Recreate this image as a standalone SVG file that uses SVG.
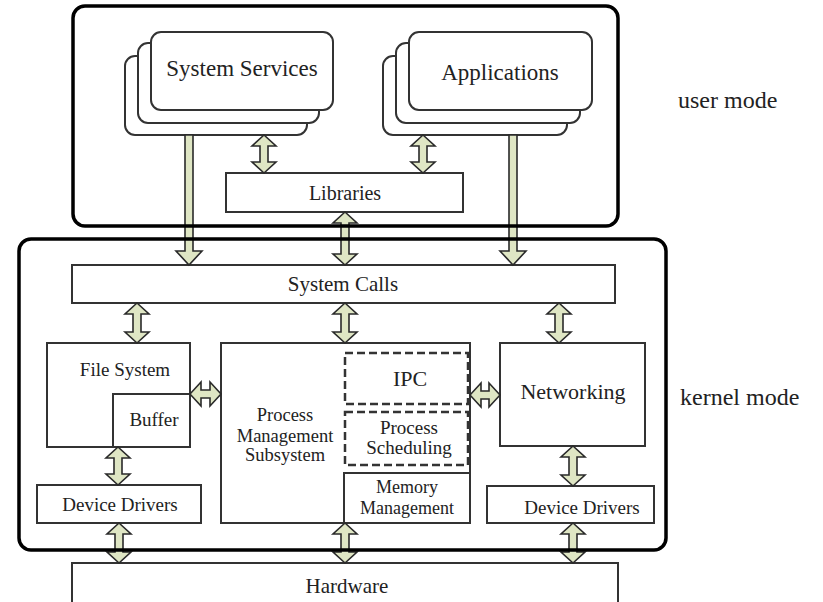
<svg xmlns="http://www.w3.org/2000/svg" width="823" height="602" viewBox="0 0 823 602">
<style>
  .box { fill: #ffffff; stroke: #333333; stroke-width: 2; }
  .rbox { fill: #ffffff; stroke: #333333; stroke-width: 2; }
  .dash { fill: none; stroke: #333333; stroke-width: 2.5; stroke-dasharray: 8 4; }
  .cont { fill: none; stroke: #000000; stroke-width: 3.5; }
  .arr { fill: #dfe6c4; stroke: #2a2a2a; stroke-width: 1.6; stroke-linejoin: miter; }
  text { font-family: "Liberation Serif", "Times New Roman", serif; fill: #222222; text-anchor: middle; }
  .side { text-anchor: start; font-size: 24px; }
</style>
<rect x="0" y="0" width="823" height="602" fill="#ffffff"/>

<g id="user-stack">
  <g id="system-services">
    <rect class="rbox" x="125" y="56" width="182" height="79" rx="10"/>
    <rect class="rbox" x="138" y="43" width="181" height="80" rx="10"/>
    <rect class="rbox" x="151" y="32" width="182" height="78" rx="10"/>
    <text x="242" y="76" font-size="23">System Services</text>
  </g>
  <g id="applications">
    <rect class="rbox" x="383" y="56" width="184" height="79" rx="10"/>
    <rect class="rbox" x="396" y="43" width="184" height="80" rx="10"/>
    <rect class="rbox" x="409" y="32" width="183" height="78" rx="10"/>
    <text x="500" y="80" font-size="23">Applications</text>
  </g>
</g>

<g id="libraries">
  <rect class="box" x="226" y="173" width="237" height="39"/>
  <text x="345" y="200" font-size="20">Libraries</text>
</g>

<g id="system-calls">
  <rect class="box" x="72" y="265" width="543" height="38"/>
  <text x="343" y="291" font-size="21">System Calls</text>
</g>

<g id="file-system">
  <rect class="box" x="47" y="343" width="143" height="104"/>
  <text x="125" y="376" font-size="19">File System</text>
</g>
<g id="buffer">
  <rect class="box" x="113" y="394" width="77" height="53"/>
  <text x="154" y="426" font-size="19">Buffer</text>
</g>

<g id="process-management">
  <rect class="box" x="221" y="343" width="249" height="180"/>
  <text x="285" y="421" font-size="18.5">Process</text>
  <text x="285" y="442" font-size="18.5">Management</text>
  <text x="285" y="461" font-size="18.5">Subsystem</text>
</g>
<g id="ipc">
  <rect class="dash" x="345" y="353" width="123" height="51"/>
  <text x="410" y="386" font-size="22">IPC</text>
</g>
<g id="process-scheduling">
  <rect class="dash" x="345" y="412" width="123" height="53"/>
  <text x="409" y="434" font-size="19">Process</text>
  <text x="409" y="454" font-size="19">Scheduling</text>
</g>
<g id="memory-management">
  <rect class="box" x="344" y="473" width="126" height="50"/>
  <text x="407" y="493" font-size="18">Memory</text>
  <text x="407" y="514" font-size="18">Management</text>
</g>

<g id="networking">
  <rect class="box" x="500" y="343" width="145" height="103"/>
  <text x="573" y="399" font-size="22">Networking</text>
</g>

<g id="device-drivers-left">
  <rect class="box" x="37" y="485" width="164" height="38"/>
  <text x="120" y="511" font-size="19">Device Drivers</text>
</g>
<g id="device-drivers-right">
  <rect class="box" x="487" y="486" width="167" height="37"/>
  <text x="582" y="514" font-size="19">Device Drivers</text>
</g>

<g id="hardware">
  <rect class="box" x="72" y="563" width="546" height="50"/>
  <text x="347" y="593" font-size="21">Hardware</text>
</g>

<g id="connectors">
  <path class="arr" d="M264,135 L276,146 L268,146 L268,162 L276,162 L264,173 L252,162 L260,162 L260,146 L252,146 Z"/>
  <path class="arr" d="M423,135 L435,146 L427,146 L427,162 L435,162 L423,173 L411,162 L419,162 L419,146 L411,146 Z"/>
  <path class="arr" d="M345,212 L357,223 L349,223 L349,254 L357,254 L345,265 L333,254 L341,254 L341,223 L333,223 Z"/>
  <path class="arr" d="M185,135 L193,135 L193,251 L202,251 L189,265 L176,251 L185,251 Z"/>
  <path class="arr" d="M509,135 L517,135 L517,251 L526,251 L513,265 L500,251 L509,251 Z"/>
  <path class="arr" d="M137,303 L149,314 L141,314 L141,332 L149,332 L137,343 L125,332 L133,332 L133,314 L125,314 Z"/>
  <path class="arr" d="M345,303 L357,314 L349,314 L349,332 L357,332 L345,343 L333,332 L341,332 L341,314 L333,314 Z"/>
  <path class="arr" d="M559,303 L571,314 L563,314 L563,332 L571,332 L559,343 L547,332 L555,332 L555,314 L547,314 Z"/>
  <path class="arr" d="M190,394 L201,382 L201,390 L210,390 L210,382 L221,394 L210,406 L210,398 L201,398 L201,406 Z"/>
  <path class="arr" d="M470,395 L481,383 L481,391 L489,391 L489,383 L500,395 L489,407 L489,399 L481,399 L481,407 Z"/>
  <path class="arr" d="M118,447 L130,458 L122,458 L122,474 L130,474 L118,485 L106,474 L114,474 L114,458 L106,458 Z"/>
  <path class="arr" d="M573,446 L585,457 L577,457 L577,475 L585,475 L573,486 L561,475 L569,475 L569,457 L561,457 Z"/>
  <path class="arr" d="M119,523 L131,534 L123,534 L123,552 L131,552 L119,563 L107,552 L115,552 L115,534 L107,534 Z"/>
  <path class="arr" d="M345,523 L357,534 L349,534 L349,552 L357,552 L345,563 L333,552 L341,552 L341,534 L333,534 Z"/>
  <path class="arr" d="M573,523 L585,534 L577,534 L577,552 L585,552 L573,563 L561,552 L569,552 L569,534 L561,534 Z"/>
</g>

<g id="user-mode">
  <rect class="cont" x="73" y="6" width="545" height="220" rx="12"/>
  <text class="side" x="678" y="108">user mode</text>
</g>
<g id="kernel-mode">
  <rect class="cont" x="19" y="239" width="647" height="311" rx="12"/>
  <text class="side" x="680" y="405">kernel mode</text>
</g>
</svg>
